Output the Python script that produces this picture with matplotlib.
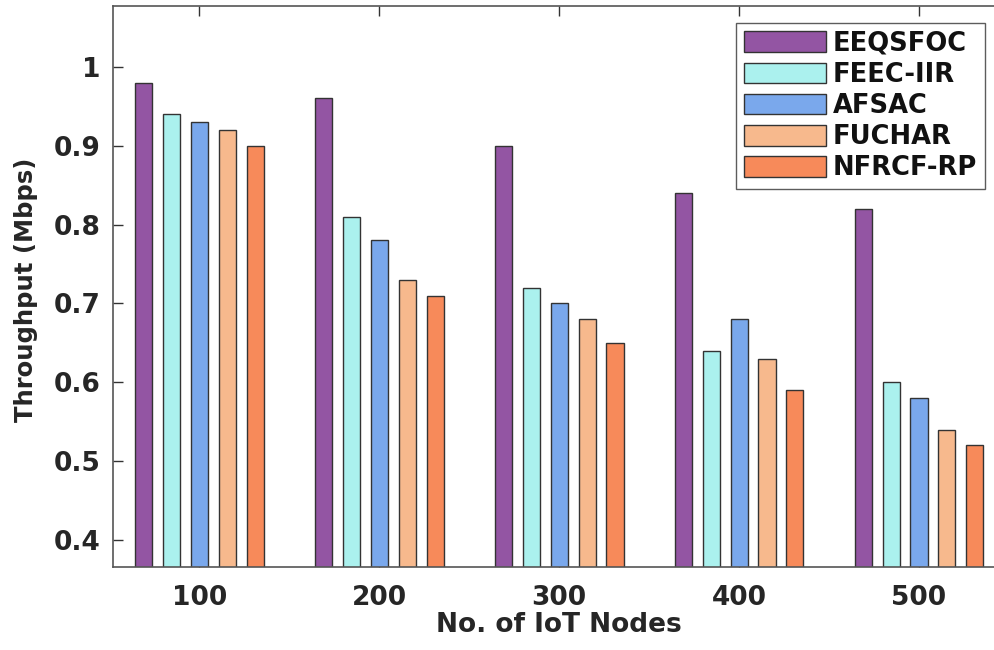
import numpy as np
import matplotlib.pyplot as plt

nodes = ['100', '200', '300', '400', '500']
methods = ['EEQSFOC', 'FEEC-IIR', 'AFSAC', 'FUCHAR', 'NFRCF-RP']
eeqsfoc = [0.98, 0.96, 0.90, 0.84, 0.82]
feec_iir = [0.94, 0.81, 0.72, 0.64, 0.60]
afsac = [0.93, 0.78, 0.70, 0.68, 0.58]
fuchar = [0.92, 0.73, 0.68, 0.63, 0.54]
nfrcf_rp = [0.90, 0.71, 0.65, 0.59, 0.52]
colors = ['#9355a3', '#abf1ee', '#7aa8ec', '#f7b98d', '#f78a5a']

plt.rcParams['font.family'] = ['DejaVu Sans']
plt.rcParams['font.weight'] = 'bold'
txt = '#262626'

fig = plt.figure(figsize=(9.95, 6.5), dpi=100)
ax = fig.add_axes([113 / 995, 83 / 650, (1009 - 113) / 995, (567 - 6) / 650])

x = np.arange(1, len(nodes) + 1)
series = [eeqsfoc, feec_iir, afsac, fuchar, nfrcf_rp]
step = 0.155
width = 0.095
for i, vals in enumerate(series):
    ax.bar(x + (i - 2) * step, vals, width, color=colors[i], edgecolor='#333333',
           linewidth=1.0, label=methods[i], zorder=2)

ax.set_xlim(0.52, 5.5)
ax.set_ylim(0.366, 1.077)
ax.set_xticks(x)
ax.set_xticklabels(nodes)
ax.set_yticks([0.4, 0.5, 0.6, 0.7, 0.8, 0.9, 1.0])
ax.set_yticklabels(['0.4', '0.5', '0.6', '0.7', '0.8', '0.9', '1'])
ax.tick_params(direction='in', length=7, width=1, colors='#333333',
               labelcolor=txt, labelsize=19, top=True, right=True)
ax.tick_params(axis='x', pad=13)
ax.tick_params(axis='y', pad=9)
for s in ax.spines.values():
    s.set_color('#555555')
    s.set_linewidth(1.2)

ax.set_xlabel('No. of IoT Nodes', fontsize=19, fontweight='bold', color=txt)
ax.xaxis.set_label_coords(0.498, -0.080)
ax.set_ylabel('Throughput (Mbps)', fontsize=17.5, fontweight='bold', color=txt)
ax.yaxis.set_label_coords(-0.084, 0.494)

leg = ax.legend(loc='upper right', bbox_to_anchor=(985 / 995, 1 - 23 / 650),
                bbox_transform=fig.transFigure, fontsize=18.5, frameon=True,
                fancybox=False, edgecolor='#333333', handlelength=3.2,
                handleheight=0.86, labelspacing=0.2, handletextpad=0.27,
                borderpad=0.3, borderaxespad=0)
leg.get_frame().set_linewidth(1.0)
for t in leg.get_texts():
    t.set_color('#111111')

fig.savefig('out.png', dpi=100)
